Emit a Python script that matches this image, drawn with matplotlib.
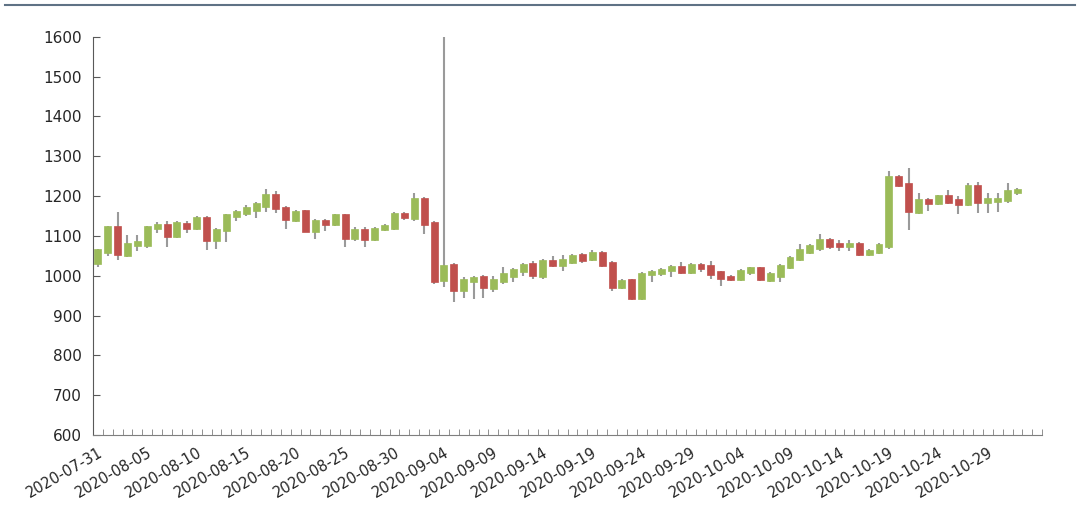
import matplotlib.pyplot as plt
import numpy as np
import pandas as pd
from matplotlib.lines import Line2D

# daily OHLC (2020-07-31 .. 2020-11-02)
start_date = "2020-07-31"
opens = [1029, 1057, 1125, 1050, 1075, 1075, 1117, 1129, 1098, 1133,
         1117, 1148, 1087, 1112, 1148, 1154, 1162, 1173, 1206, 1173,
         1137, 1164, 1111, 1140, 1127, 1154, 1093, 1117, 1090, 1115,
         1117, 1158, 1143, 1196, 1135, 987, 1029, 962, 983, 1000,
         967, 983, 998, 1010, 1032, 998, 1039, 1025, 1033, 1054,
         1040, 1060, 1035, 968, 992, 942, 1002, 1004, 1012, 1025,
         1007, 1029, 1027, 1011, 1000, 990, 1007, 1021, 988, 998,
         1019, 1040, 1057, 1068, 1093, 1083, 1071, 1083, 1052, 1057,
         1071, 1250, 1233, 1158, 1192, 1179, 1202, 1192, 1177, 1227,
         1182, 1185, 1187, 1208]
highs = [1068, 1126, 1160, 1102, 1102, 1126, 1135, 1137, 1137, 1137,
         1150, 1150, 1120, 1155, 1165, 1177, 1185, 1218, 1212, 1175,
         1165, 1165, 1142, 1142, 1156, 1156, 1123, 1122, 1123, 1130,
         1160, 1160, 1207, 1198, 1137, 1600, 1032, 997, 1000, 1002,
         1000, 1021, 1020, 1031, 1037, 1041, 1050, 1052, 1055, 1057,
         1065, 1062, 1037, 992, 993, 1010, 1015, 1020, 1027, 1035,
         1031, 1031, 1036, 1013, 1002, 1017, 1023, 1023, 1009, 1029,
         1050, 1079, 1080, 1104, 1096, 1090, 1089, 1085, 1067, 1081,
         1262, 1252, 1271, 1207, 1195, 1204, 1215, 1200, 1232, 1236,
         1207, 1207, 1233, 1220]
lows = [1022, 1050, 1040, 1047, 1062, 1070, 1108, 1073, 1096, 1108,
        1115, 1065, 1068, 1085, 1137, 1150, 1144, 1160, 1158, 1118,
        1135, 1110, 1093, 1112, 1125, 1073, 1088, 1071, 1088, 1113,
        1115, 1139, 1137, 1104, 979, 972, 933, 943, 942, 943,
        960, 980, 985, 1000, 992, 993, 1022, 1012, 1030, 1033,
        1038, 1021, 962, 966, 940, 940, 983, 1000, 998, 1005,
        1005, 1010, 992, 975, 988, 988, 1002, 987, 985, 985,
        1017, 1038, 1055, 1062, 1068, 1062, 1062, 1050, 1050, 1055,
        1067, 1223, 1115, 1156, 1162, 1177, 1180, 1154, 1175, 1158,
        1158, 1160, 1183, 1202]
closes = [1067, 1125, 1052, 1083, 1087, 1125, 1129, 1098, 1135, 1117,
          1148, 1087, 1118, 1154, 1162, 1173, 1182, 1206, 1167, 1139,
          1162, 1111, 1140, 1127, 1154, 1093, 1117, 1090, 1121, 1127,
          1158, 1146, 1196, 1127, 985, 1027, 962, 993, 998, 968,
          992, 1008, 1018, 1029, 1000, 1039, 1025, 1043, 1052, 1037,
          1060, 1025, 968, 990, 942, 1008, 1012, 1018, 1025, 1008,
          1029, 1018, 1002, 992, 990, 1015, 1021, 989, 1007, 1027,
          1048, 1067, 1077, 1093, 1073, 1071, 1083, 1052, 1065, 1079,
          1250, 1225, 1160, 1192, 1179, 1202, 1182, 1177, 1229, 1182,
          1196, 1196, 1215, 1217]

n_days = 96  # category axis runs two days past the last candle
dates = pd.date_range(start_date, periods=n_days, freq="D")
labels = [d.strftime("%Y-%m-%d") for d in dates]

up_color = "#9BBB59"
down_color = "#C0504D"
wick_color = "#9A9A9A"

fig = plt.figure(figsize=(10.8, 5.26), dpi=100)
ax = fig.add_axes([0.086, 0.173, 0.879, 0.757])

x = np.arange(len(opens))
for i in x:
    o, h, l, c = opens[i], highs[i], lows[i], closes[i]
    col = up_color if c >= o else down_color
    ax.vlines(i, l, h, color=wick_color, linewidth=1.5, zorder=1)
    ax.bar(i, abs(c - o), bottom=min(o, c), width=0.7, color=col,
           edgecolor=col, linewidth=0.5, zorder=2)

ax.set_xlim(-0.5, n_days - 0.5)
ax.set_ylim(600, 1600)
ax.set_yticks(np.arange(600, 1601, 100))

# labels every 5 days, tick marks at category boundaries
ax.set_xticks(np.arange(0, n_days - 2, 5))
ax.set_xticklabels(labels[0:n_days - 2:5], rotation=30, ha="right",
                   rotation_mode="anchor", fontsize=10.5)
ax.set_xticks(np.arange(-0.5, n_days, 1), minor=True)
ax.tick_params(axis="x", which="major", length=0, pad=7)
ax.tick_params(axis="x", which="minor", length=4, direction="in",
               color="#7F7F7F")
ax.tick_params(axis="y", length=5, direction="in", color="#595959",
               labelsize=11, pad=8)

for side in ["top", "right"]:
    ax.spines[side].set_visible(False)
ax.spines["left"].set_color("#595959")
ax.spines["bottom"].set_color("#7F7F7F")
for lab in ax.get_xticklabels() + ax.get_yticklabels():
    lab.set_color("#262626")

# thin rule along the top edge of the picture
fig.add_artist(Line2D([0.005, 0.995], [0.99, 0.99], transform=fig.transFigure,
                      color="#5F7285", linewidth=1.5))

fig.savefig("out.png", dpi=100)
